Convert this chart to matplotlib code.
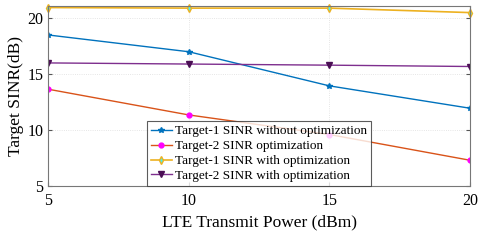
import matplotlib
matplotlib.use('Agg')
import matplotlib.pyplot as plt

# LTE transmit power (dBm)
power = [5, 10, 15, 20]

# Target SINR values (dB)
t1_no_opt = [18.5, 17.0, 13.95, 11.95]
t2_opt = [13.65, 11.35, 9.6, 7.3]
t1_opt = [20.95, 20.9, 20.9, 20.5]
t2_with_opt = [16.0, 15.9, 15.8, 15.68]

labels = ['Target-1 SINR without optimization',
          'Target-2 SINR optimization',
          'Target-1 SINR with optimization',
          'Target-2 SINR with optimization']

plt.rcParams['font.family'] = ['Liberation Serif', 'DejaVu Serif']

fig = plt.figure(figsize=(4.91, 2.45), dpi=100)
ax = fig.add_axes([0.098, 0.241, 0.859, 0.735])

ax.plot(power, t1_no_opt, color='#0072BD', marker='*', ms=4, lw=1, label=labels[0])
ax.plot(power, t2_opt, color='#D95319', marker='o', ms=3.5, mfc='#FF00FF', mec='#FF00FF', lw=1, label=labels[1])
ax.plot(power, t1_opt, color='#EDB120', marker='d', ms=4, mfc='#4DEEEA', mec='#EDB120', lw=1.2,
        label=labels[2], clip_on=False)
ax.plot(power, t2_with_opt, color='#7E2F8E', marker='v', ms=4, mfc='#4B0F55', mec='#4B0F55', lw=1, label=labels[3])

ax.set_xlim(5, 20)
ax.set_ylim(5, 21.1)
ax.set_xticks([5, 10, 15, 20])
ax.set_yticks([5, 10, 15, 20])
ax.grid(True, linestyle=':', color='#DDDDDD', lw=0.6)
ax.tick_params(direction='in', labelsize=11.5, length=3, color='#555555', top=True, right=True,
               labeltop=False, labelright=False)
ax.tick_params(axis='x', pad=5)
for s in ax.spines.values():
    s.set_color('#777777')

ax.set_xlabel('LTE Transmit Power (dBm)', fontsize=12.5, labelpad=4)
ax.set_ylabel('Target SINR(dB)', fontsize=12.5, labelpad=2)

leg = ax.legend(loc='lower left', bbox_to_anchor=(0.234, 0.0), fontsize=9.5, frameon=True,
                fancybox=False, edgecolor='#333333', borderpad=0.3, labelspacing=0.2,
                handlelength=1.6, handletextpad=0.2, borderaxespad=0)
leg.get_frame().set_linewidth(0.8)

fig.savefig('out.png', dpi=100)
